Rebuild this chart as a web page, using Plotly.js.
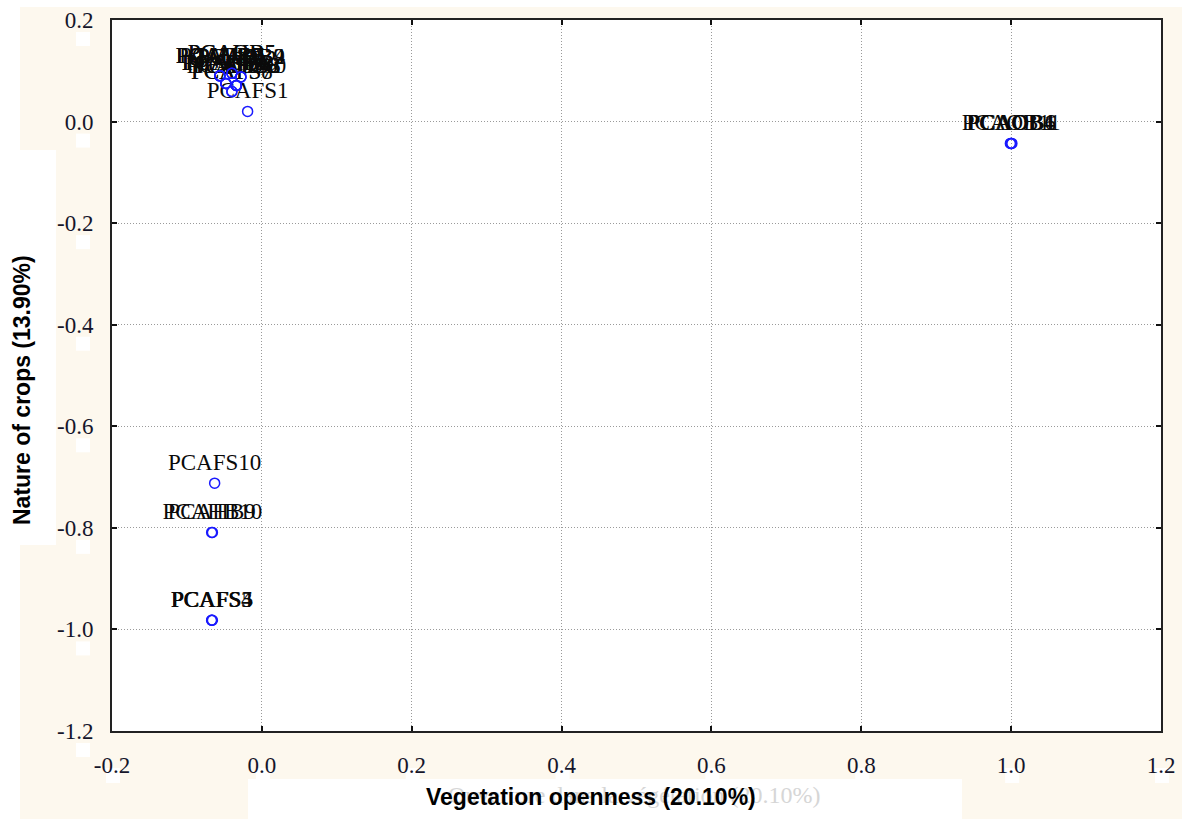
<!DOCTYPE html>
<html>
<head>
<meta charset="utf-8">
<script src="https://cdn.plot.ly/plotly-3.0.1.min.js"></script>
<style>html,body{margin:0;padding:0;background:#fff;}#chart{width:1182px;height:819px;}</style>
</head>
<body>
<div id="chart"></div>
<script>
// ---- data ----
const labels = [
  "PCAFS1","PCAFS2","PCAFS6","PCAFS7","PCAFS8","PCAFS9",
  "PCAHB1","PCAHB2","PCAHB3","PCAHB4","PCAHB5","PCAHB6","PCAHB7","PCAHB8",
  "PCAOB2","PCAOB3","PCAOB5","PCAOB7","PCAOB8","PCAOB9","PCAOB10",
  "PCAOB1","PCAOB4","PCAOB6","PCAOB11",
  "PCAFS10",
  "PCAHB9","PCAHB10",
  "PCAFS3","PCAFS4","PCAFS5"
];
const xs = [
  -0.019,-0.048,-0.034,-0.040,-0.040,-0.056,
  -0.048,-0.034,-0.056,-0.028,-0.040,-0.048,-0.056,-0.034,
  -0.028,-0.056,-0.040,-0.048,-0.034,-0.028,-0.034,
  1.000,0.999,1.001,1.000,
  -0.063,
  -0.067,-0.066,
  -0.067,-0.067,-0.066
];
const ys = [
  0.020,0.075,0.071,0.059,0.059,0.090,
  0.075,0.071,0.090,0.088,0.095,0.075,0.090,0.071,
  0.088,0.090,0.095,0.075,0.071,0.088,0.071,
  -0.043,-0.043,-0.043,-0.043,
  -0.712,
  -0.809,-0.809,
  -0.982,-0.982,-0.982
];
const xTickVals = [-0.2,0.0,0.2,0.4,0.6,0.8,1.0,1.2];
const xTickText = ["-0.2","0.0","0.2","0.4","0.6","0.8","1.0","1.2"];
const yTickVals = [0.2,0.0,-0.2,-0.4,-0.6,-0.8,-1.0,-1.2];
const yTickText = ["0.2","0.0","-0.2","-0.4","-0.6","-0.8","-1.0","-1.2"];
const xTitle = "Vegetation openness (20.10%)";
const yTitle = "Nature of crops (13.90%)";
const ghostTitle = "Ouverture dans la végétation (20.10%)";

// ---- layout geometry (pixels) ----
const W = 1182, H = 819;
const L = 112, R = 1161, T = 20, B = 731;
const px = v => (v - L) / (R - L);   // pixel x -> paper x
const py = v => (B - v) / (B - T);   // pixel y -> paper y
const CREAM = "#fdf8ee";
const SERIF = "Liberation Serif, Times New Roman, serif";

function rectPx(x0, y0, x1, y1, color) {
  return {type:"rect", xref:"paper", yref:"paper", layer:"below",
    x0:px(x0), x1:px(x1), y0:py(y1), y1:py(y0),
    fillcolor:color, line:{width:0}};
}

const shapes = [
  rectPx(0, 0, 20, H, "#ffffff"),
  rectPx(0, 0, W, 7, "#ffffff"),
  rectPx(0, 150, 56, 545, "#ffffff"),
  rectPx(248, 779, 962, H, "#ffffff")
];
// small white patches under tick labels (artifacts in the reference)
xTickVals.forEach(v => {
  const cx = L + (v + 0.2) / 1.4 * (R - L);
  shapes.push(rectPx(cx - 6, 768, cx + 8, 783, "#ffffff"));
});
yTickVals.forEach(v => {
  const cy = B - (v + 1.2) / 1.4 * (B - T);
  shapes.push(rectPx(76, cy + 12, 90, cy + 26, "#ffffff"));
});

const textTrace = {
  x: xs, y: ys, text: labels,
  type: "scatter", mode: "markers+text",
  textposition: "top center",
  textfont: {family: SERIF, size: 23, color: "#0a0a0a"},
  marker: {size: 10, color: "rgba(0,0,0,0)", line: {width: 0}},
  hoverinfo: "skip", showlegend: false
};
const markerTrace = {
  x: xs, y: ys, text: labels,
  type: "scatter", mode: "markers",
  marker: {symbol: "circle-open", size: 10, color: "#1a1aff", line: {width: 1.5, color: "#1a1aff"}},
  showlegend: false
};

function axis(extra) {
  return Object.assign({
    showline: true, linecolor: "#222222", linewidth: 2, mirror: "allticks",
    ticks: "inside", ticklen: 5, tickwidth: 2, tickcolor: "#111111",
    showgrid: true, gridcolor: "#9a9a9a", griddash: "1px,2px", gridwidth: 1,
    zeroline: false,
    tickfont: {family: SERIF, size: 23, color: "#15152a"},
    ticklabelstandoff: 12
  }, extra);
}

const layout = {
  width: W, height: H,
  margin: {l: L, r: W - R, t: T, b: H - B, pad: 0},
  paper_bgcolor: CREAM, plot_bgcolor: "#ffffff",
  showlegend: false,
  xaxis: axis({range: [-0.2, 1.2], tickmode: "array", tickvals: xTickVals, ticktext: xTickText}),
  yaxis: axis({range: [-1.2, 0.2], tickmode: "array", tickvals: yTickVals, ticktext: yTickText}),
  shapes: shapes,
  annotations: [
    {text: ghostTitle, xref: "paper", yref: "paper", x: px(634), y: py(795),
     xanchor: "center", yanchor: "middle", showarrow: false,
     font: {family: SERIF, size: 24, color: "#d6d6d6"}},
    {text: "<b>" + xTitle + "</b>", xref: "paper", yref: "paper", x: px(591), y: py(797),
     xanchor: "center", yanchor: "middle", showarrow: false,
     font: {family: "Liberation Sans, Arial, sans-serif", size: 23, color: "#000000"}},
    {text: "<b>" + yTitle + "</b>", xref: "paper", yref: "paper", x: px(22), y: py(390),
     xanchor: "center", yanchor: "middle", showarrow: false, textangle: -90,
     font: {family: "Liberation Sans, Arial, sans-serif", size: 23, color: "#000000"}}
  ]
};

Plotly.newPlot("chart", [textTrace, markerTrace], layout, {displayModeBar: false, staticPlot: true});
</script>
</body>
</html>
